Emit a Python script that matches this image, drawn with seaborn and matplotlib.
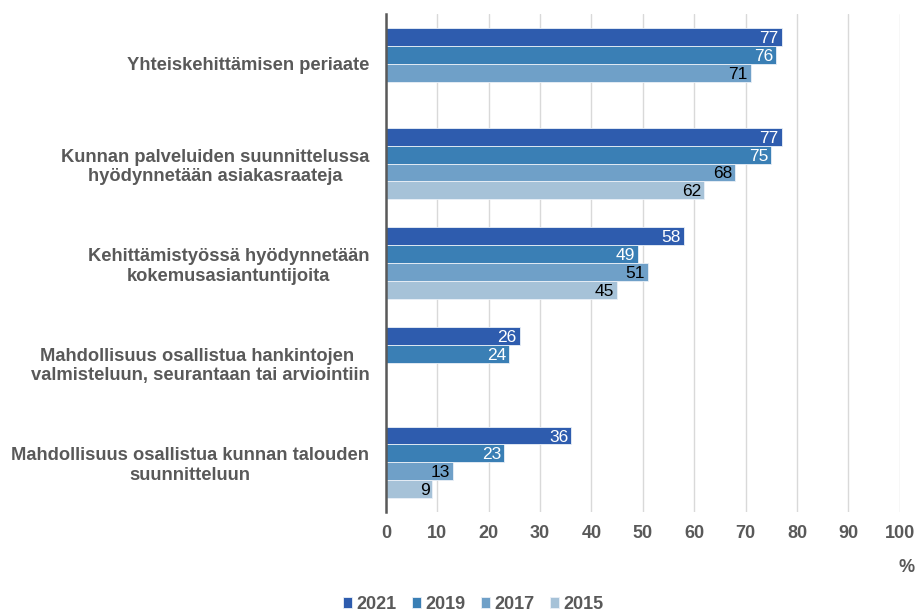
import matplotlib
matplotlib.use('Agg')
import matplotlib.pyplot as plt
import seaborn as sns
import numpy as np
import pandas as pd

CATEGORIES = [
    "Yhteiskehittämisen periaate",
    "Kunnan palveluiden suunnittelussa\nhyödynnetään asiakasraateja",
    "Kehittämistyössä hyödynnetään\nkokemusasiantuntijoita",
    "Mahdollisuus osallistua hankintojen \nvalmisteluun, seurantaan tai arviointiin",
    "Mahdollisuus osallistua kunnan talouden\nsuunnitteluun",
]
YEARS = ["2021", "2019", "2017", "2015"]
VALUES_2021 = [77, 77, 58, 26, 36]
VALUES_2019 = [76, 75, 49, 24, 23]
VALUES_2017 = [71, 68, 51, np.nan, 13]
VALUES_2015 = [np.nan, 62, 45, np.nan, 9]
X_TICKS = [0, 10, 20, 30, 40, 50, 60, 70, 80, 90, 100]

COLORS = ["#2E5CAE", "#3A7FB5", "#6FA0C8", "#A6C2D8"]
LABEL_COLORS = ["white", "white", "black", "black"]
GRAY = "#595959"

series = [VALUES_2021, VALUES_2019, VALUES_2017, VALUES_2015]
rows = []
for year, vals in zip(YEARS, series):
    for cat, v in zip(CATEGORIES, vals):
        rows.append({"category": cat, "year": year, "value": v})
df = pd.DataFrame(rows)

sns.set_style("white")
plt.rcParams['font.family'] = ['Liberation Sans', 'DejaVu Sans']

fig = plt.figure(figsize=(9.19, 6.12), dpi=100)
ax = fig.add_axes([0.42, 0.163, 0.559, 0.814])

sns.barplot(
    data=df, y="category", x="value", hue="year", orient="h",
    hue_order=YEARS, order=CATEGORIES, palette=COLORS, width=0.72,
    saturation=1, edgecolor="#EAF0F7", linewidth=0.6, legend=True, ax=ax,
)

# value labels inside the bar ends
for container, lc in zip(ax.containers, LABEL_COLORS):
    labels = ["" if np.isnan(v) else f"{v:.0f}" for v in container.datavalues]
    texts = ax.bar_label(container, labels=labels, label_type="edge", padding=-2,
                         color=lc, fontsize=12.5)
    for t in texts:
        t.set_ha("right")
        t.set_va("center_baseline")

ax.set_xlim(0, 100)
ax.set_ylim(4.5, -0.5)
ax.set_xticks(X_TICKS)
ax.xaxis.grid(True, color="#D9D9D9", linewidth=1)
ax.set_axisbelow(True)
for side in ["top", "right", "bottom"]:
    ax.spines[side].set_visible(False)
ax.spines["left"].set_color(GRAY)
ax.spines["left"].set_linewidth(1.8)
ax.tick_params(axis="both", length=0)
ax.tick_params(axis="x", pad=9)
ax.tick_params(axis="y", pad=12)
ax.set_xlabel("")
ax.set_ylabel("")
for lbl in ax.get_xticklabels():
    lbl.set_fontweight("bold")
    lbl.set_color(GRAY)
    lbl.set_fontsize(13)
for lbl in ax.get_yticklabels():
    lbl.set_fontweight("bold")
    lbl.set_color(GRAY)
    lbl.set_fontsize(13.2)
    lbl.set_multialignment("center")

fig.text(0.995, 0.073, "%", ha="right", va="center", color=GRAY,
         fontsize=13, fontweight="bold")

handles, labs = ax.get_legend_handles_labels()
ax.legend_.remove()
leg = fig.legend(handles, labs, loc="lower center", bbox_to_anchor=(0.515, -0.028),
                 ncol=4, frameon=False, handlelength=0.45, handleheight=0.6,
                 handletextpad=0.25, columnspacing=0.9,
                 prop={"weight": "bold", "size": 13})
for t in leg.get_texts():
    t.set_color(GRAY)

fig.savefig("out.png", dpi=100)
